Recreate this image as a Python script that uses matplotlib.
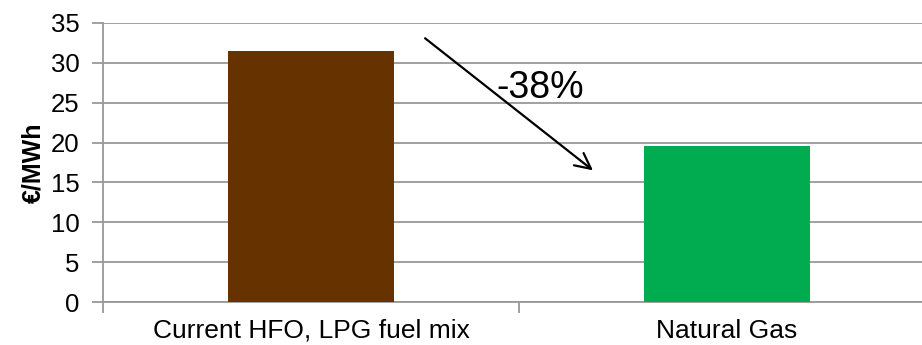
import matplotlib.pyplot as plt
from matplotlib.ticker import MultipleLocator

plt.rcParams['font.family'] = ['Liberation Sans', 'DejaVu Sans']

categories = ['Current HFO, LPG fuel mix', 'Natural Gas']
values = [31.5, 19.6]
colors = ['#663300', '#00AC4F']
change_label = '-38%'

grid_gray = '#999999'

fig = plt.figure(figsize=(9.22, 3.45), dpi=100)
ax = fig.add_axes([103 / 922, 43 / 345, 832 / 922, 279 / 345])

x = list(range(len(categories)))
ax.bar(x, values, width=0.4, color=colors, zorder=3)

ax.set_xlim(-0.5, len(categories) - 0.5)
ax.set_ylim(0, 35)
ax.yaxis.set_major_locator(MultipleLocator(5))
ax.yaxis.grid(True, color=grid_gray, linewidth=1.3, zorder=0)
ax.set_axisbelow(True)

ax.set_xticks(x)
ax.set_xticklabels(categories, fontsize=19)
ax.xaxis.set_minor_locator(MultipleLocator(1, offset=0.5))
ax.tick_params(axis='x', which='major', length=0, pad=12)
ax.tick_params(axis='x', which='minor', length=8, width=1.3, color=grid_gray, direction='out')
ax.tick_params(axis='y', length=8, width=1.3, color=grid_gray, labelsize=18.5, pad=9)

for side in ['top', 'right']:
    ax.spines[side].set_visible(False)
ax.spines['left'].set_color(grid_gray)
ax.spines['left'].set_linewidth(1.3)
ax.spines['bottom'].set_color(grid_gray)
ax.spines['bottom'].set_linewidth(1.3)

ax.set_ylabel('€/MWh', fontsize=18, fontweight='bold', labelpad=4)

# arrow showing the drop between the two options
ax.annotate('', xy=(0.683, 16.3), xytext=(0.269, 33.3),
            arrowprops=dict(arrowstyle='->', color='black', lw=1.6,
                            mutation_scale=28), zorder=5)
ax.text(0.55, 26.8, change_label, fontsize=27, ha='center', va='center', zorder=6)

fig.savefig('out.png', dpi=100)
